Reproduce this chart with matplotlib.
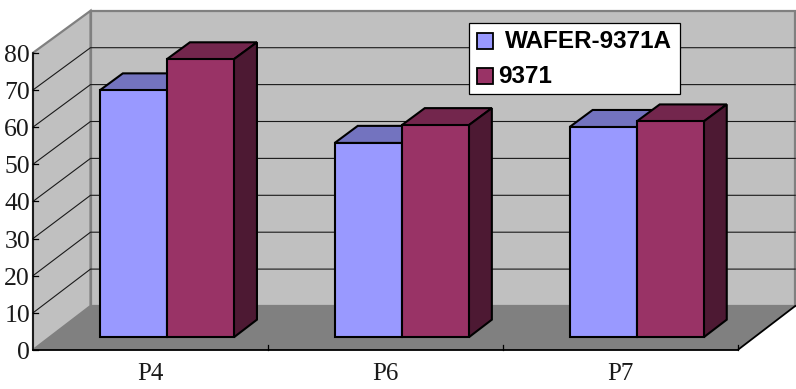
import matplotlib
matplotlib.use("Agg")
import matplotlib.pyplot as plt
from matplotlib.patches import Polygon, Rectangle

# Chart data
categories = ["P4", "P6", "P7"]
series_names = ["WAFER-9371A", "9371"]
wafer_values = [66.6, 52.4, 56.7]
ref_values = [75.0, 57.2, 58.2]
y_ticks = [0, 10, 20, 30, 40, 50, 60, 70, 80]

# Face colours: front, top, side
BLUE = ("#9999FF", "#7373BF", "#4D4D80")
RED = ("#993366", "#73264D", "#4D1933")
WALL = "#C0C0C0"
FLOOR = "#808080"
EDGE = "#808080"

# Oblique projection of the 3D box onto the canvas (pixel units)
X0, Y0 = 33.0, 350.0
CAT_W = 234.9
DEPTH_X, DEPTH_Y = 57.5, 44.0
UNIT_FRONT, UNIT_BACK = 3.715, 3.69


def project(cat, value, depth):
    unit = UNIT_FRONT + (UNIT_BACK - UNIT_FRONT) * depth
    return (X0 + cat * CAT_W + DEPTH_X * depth,
            Y0 - DEPTH_Y * depth - value * unit)


fig = plt.figure(figsize=(7.96, 3.89), dpi=100)
ax = fig.add_axes([0, 0, 1, 1])
ax.set_xlim(0, 796)
ax.set_ylim(389, 0)
ax.axis("off")

n = len(categories)
top = max(y_ticks)

# Walls and floor
ax.add_patch(Polygon([project(0, 0, 1), project(n, 0, 1), project(n, top, 1), project(0, top, 1)],
                     closed=True, fc=WALL, ec=EDGE, lw=1.6, zorder=1))
ax.add_patch(Polygon([project(0, 0, 0), project(0, 0, 1), project(0, top, 1), project(0, top, 0)],
                     closed=True, fc=WALL, ec=EDGE, lw=1.6, zorder=1))
ax.add_patch(Polygon([project(0, 0, 0), project(n, 0, 0), project(n, 0, 1), project(0, 0, 1)],
                     closed=True, fc=FLOOR, ec="none", zorder=2))

# Gridlines on the side and back walls
for v in y_ticks[1:-1]:
    pts = [project(0, v, 0), project(0, v, 1), project(n, v, 1)]
    ax.plot(*zip(*pts), color="#1a1a1a", lw=0.8, zorder=3, solid_joinstyle="miter")

# Axes, ticks and labels
ax.plot(*zip(project(0, 0, 0), project(0, top, 0)), color="black", lw=1.1, zorder=4)
ax.plot(*zip(project(0, 0, 0), project(n, 0, 0), project(n, 0, 1)), color="black", lw=1.3, zorder=4)
for v in y_ticks:
    x, y = project(0, v, 0)
    ax.plot([x, x + 5], [y, y], color="black", lw=0.9, zorder=4)
    ax.text(x - 3, y + 3, str(v), ha="right", va="center", family="Liberation Serif",
            fontsize=18.5, color="#1a1a1a", zorder=6)
for i in range(1, n + 1):
    x, y = project(i, 0, 0)
    ax.plot([x, x], [y, y - 5], color="black", lw=0.9, zorder=4)
for i, name in enumerate(categories):
    x, y = project(i + 0.5, 0, 0)
    ax.text(x, y + 23.5, name, ha="center", va="center", family="Liberation Serif",
            fontsize=18, color="#1a1a1a", zorder=6)

# Bars, blue drawn first so the red neighbour overlaps it
BAR_LEFT, BAR_W = 0.2135, 0.2855
D_FRONT, D_BACK = 0.29, 0.69
for s, (values, colours) in enumerate([(wafer_values, BLUE), (ref_values, RED)]):
    for i, v in enumerate(values):
        x0 = i + BAR_LEFT + s * BAR_W
        x1 = x0 + BAR_W
        faces = [
            ([project(x0, v, D_FRONT), project(x1, v, D_FRONT), project(x1, v, D_BACK), project(x0, v, D_BACK)], colours[1]),
            ([project(x1, 0, D_FRONT), project(x1, 0, D_BACK), project(x1, v, D_BACK), project(x1, v, D_FRONT)], colours[2]),
            ([project(x0, 0, D_FRONT), project(x1, 0, D_FRONT), project(x1, v, D_FRONT), project(x0, v, D_FRONT)], colours[0]),
        ]
        for pts, fc in faces:
            ax.add_patch(Polygon(pts, closed=True, fc=fc, ec="black", lw=1.5, zorder=5 + s * 0.1,
                                 joinstyle="miter"))

# Legend box
ax.add_patch(Rectangle((468.5, 22.5), 211, 71, fc="white", ec="black", lw=0.9, zorder=7))
for (label, colour, y, tx) in [(series_names[0], BLUE[0], 41, 505), (series_names[1], RED[0], 76, 498)]:
    ax.add_patch(Rectangle((476.5, y - 8), 16, 16, fc=colour, ec="black", lw=1.3, zorder=8))
    ax.text(tx, y + 0.5, label, ha="left", va="center", family="Liberation Sans", fontweight="bold",
            fontsize=17.5, color="black", zorder=8)

fig.savefig("out.png", dpi=100)
